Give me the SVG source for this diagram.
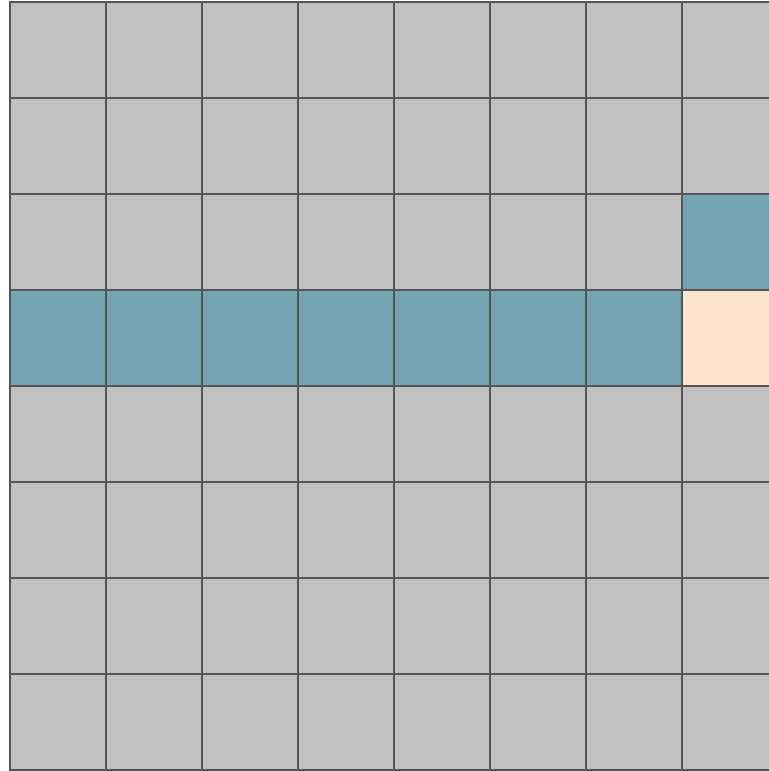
<svg xmlns="http://www.w3.org/2000/svg" width="769" height="771" viewBox="0 0 769 771">
<style>
.c{stroke:#555555;stroke-width:2}
.g{fill:#c0c0c0}
.t{fill:#74a4b0}
.p{fill:#fde5cd}
</style>
<rect width="769" height="771" fill="#ffffff"/>
<g id="grid">
<g id="row0">
<rect class="c g" x="10" y="2" width="96" height="96"/><rect class="c g" x="106" y="2" width="96" height="96"/><rect class="c g" x="202" y="2" width="96" height="96"/><rect class="c g" x="298" y="2" width="96" height="96"/><rect class="c g" x="394" y="2" width="96" height="96"/><rect class="c g" x="490" y="2" width="96" height="96"/><rect class="c g" x="586" y="2" width="96" height="96"/><rect class="c g" x="682" y="2" width="96" height="96"/>
</g>
<g id="row1">
<rect class="c g" x="10" y="98" width="96" height="96"/><rect class="c g" x="106" y="98" width="96" height="96"/><rect class="c g" x="202" y="98" width="96" height="96"/><rect class="c g" x="298" y="98" width="96" height="96"/><rect class="c g" x="394" y="98" width="96" height="96"/><rect class="c g" x="490" y="98" width="96" height="96"/><rect class="c g" x="586" y="98" width="96" height="96"/><rect class="c g" x="682" y="98" width="96" height="96"/>
</g>
<g id="row2">
<rect class="c g" x="10" y="194" width="96" height="96"/><rect class="c g" x="106" y="194" width="96" height="96"/><rect class="c g" x="202" y="194" width="96" height="96"/><rect class="c g" x="298" y="194" width="96" height="96"/><rect class="c g" x="394" y="194" width="96" height="96"/><rect class="c g" x="490" y="194" width="96" height="96"/><rect class="c g" x="586" y="194" width="96" height="96"/><rect class="c t" x="682" y="194" width="96" height="96"/>
</g>
<g id="row3">
<rect class="c t" x="10" y="290" width="96" height="96"/><rect class="c t" x="106" y="290" width="96" height="96"/><rect class="c t" x="202" y="290" width="96" height="96"/><rect class="c t" x="298" y="290" width="96" height="96"/><rect class="c t" x="394" y="290" width="96" height="96"/><rect class="c t" x="490" y="290" width="96" height="96"/><rect class="c t" x="586" y="290" width="96" height="96"/><rect class="c p" x="682" y="290" width="96" height="96"/>
</g>
<g id="row4">
<rect class="c g" x="10" y="386" width="96" height="96"/><rect class="c g" x="106" y="386" width="96" height="96"/><rect class="c g" x="202" y="386" width="96" height="96"/><rect class="c g" x="298" y="386" width="96" height="96"/><rect class="c g" x="394" y="386" width="96" height="96"/><rect class="c g" x="490" y="386" width="96" height="96"/><rect class="c g" x="586" y="386" width="96" height="96"/><rect class="c g" x="682" y="386" width="96" height="96"/>
</g>
<g id="row5">
<rect class="c g" x="10" y="482" width="96" height="96"/><rect class="c g" x="106" y="482" width="96" height="96"/><rect class="c g" x="202" y="482" width="96" height="96"/><rect class="c g" x="298" y="482" width="96" height="96"/><rect class="c g" x="394" y="482" width="96" height="96"/><rect class="c g" x="490" y="482" width="96" height="96"/><rect class="c g" x="586" y="482" width="96" height="96"/><rect class="c g" x="682" y="482" width="96" height="96"/>
</g>
<g id="row6">
<rect class="c g" x="10" y="578" width="96" height="96"/><rect class="c g" x="106" y="578" width="96" height="96"/><rect class="c g" x="202" y="578" width="96" height="96"/><rect class="c g" x="298" y="578" width="96" height="96"/><rect class="c g" x="394" y="578" width="96" height="96"/><rect class="c g" x="490" y="578" width="96" height="96"/><rect class="c g" x="586" y="578" width="96" height="96"/><rect class="c g" x="682" y="578" width="96" height="96"/>
</g>
<g id="row7">
<rect class="c g" x="10" y="674" width="96" height="96"/><rect class="c g" x="106" y="674" width="96" height="96"/><rect class="c g" x="202" y="674" width="96" height="96"/><rect class="c g" x="298" y="674" width="96" height="96"/><rect class="c g" x="394" y="674" width="96" height="96"/><rect class="c g" x="490" y="674" width="96" height="96"/><rect class="c g" x="586" y="674" width="96" height="96"/><rect class="c g" x="682" y="674" width="96" height="96"/>
</g>
</g>
<g id="connectors"></g>
</svg>
